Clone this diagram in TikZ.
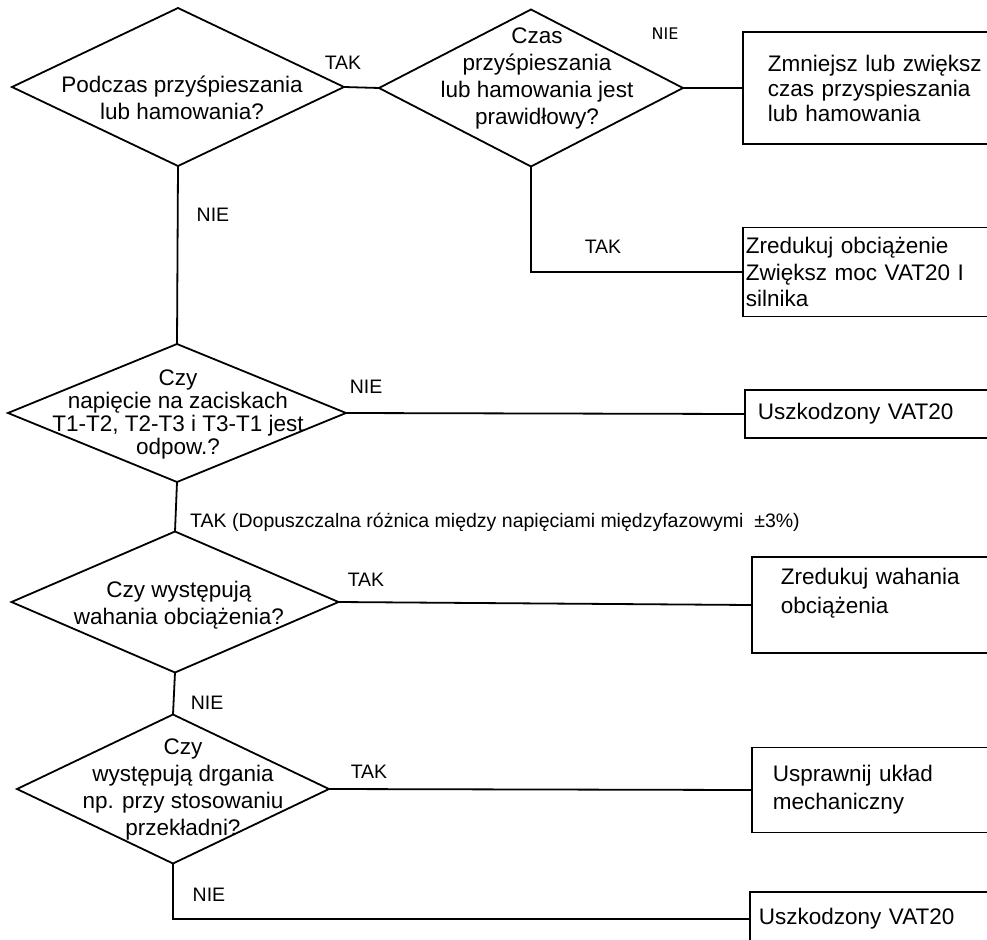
\documentclass[tikz,border=0pt]{standalone}
\usepackage{fontspec}
\setmainfont{Liberation Sans}
\newfontfamily\dejavu{DejaVu Sans}
\usetikzlibrary{shapes.geometric}

\begin{document}
\begin{tikzpicture}[x=1pt, y=-1pt,
                decision/.style={draw=black, line width=1.8pt, diamond, inner sep=0pt, outer sep=0pt},
                question/.style={align=center, inner sep=0pt, font=\fontsize{22.5}{27}\selectfont},
                action/.style={draw=black, line width=1.8pt, rectangle, anchor=west, align=left, text width=260pt, inner ysep=0pt, font=\fontsize{22.5}{25}\selectfont},
                edge/.style={line width=1.8pt},
                answer/.style={inner sep=0pt, font=\fontsize{19.5}{23}\selectfont}
            ]

            \clip (0,0) rectangle (987,939);

            % Decyzje
            \node[decision, minimum width=332pt, minimum height=158pt] (D1) at (178,87) {};
            \node[question] (D1t) at (182,98) {Podczas przyśpieszania\\lub hamowania?};
            \node[decision, minimum width=304pt, minimum height=157pt] (D2) at (531,88) {};
            \node[question] (D2t) at (537,78) {Czas\\przyśpieszania\\lub hamowania jest\\prawidłowy?};
            \node[decision, minimum width=338pt, minimum height=138pt] (D3) at (177,413) {};
            \node[question, font=\fontsize{22.5}{23}\selectfont] (D3t) at (178,414) {Czy\\napięcie na zaciskach\\T1-T2, T2-T3 i T3-T1 jest\\odpow.?};
            \node[decision, minimum width=327pt, minimum height=141pt] (D4) at (175,602) {};
            \node[question] (D4t) at (179,605) {Czy występują\\wahania obciążenia?};
            \node[decision, minimum width=312pt, minimum height=149pt] (D5) at (173,789) {};
            \node[question] (D5t) at (183,789) {Czy\\występują drgania\\np. przy stosowaniu\\przekładni?};

            % Działania
            \node[action, inner xsep=25pt, minimum height=112pt] (B1) at (742,88) {Zmniejsz lub zwiększ\\czas przyspieszania\\lub hamowania};
            \node[action, inner xsep=3pt, minimum height=89pt, font=\fontsize{22.5}{26.5}\selectfont] (B2) at (742,272) {Zredukuj obciążenie\\Zwiększ moc VAT20 I\\silnika};
            \node[action, inner xsep=13pt, minimum height=48pt] (B3) at (744,414) {Uszkodzony VAT20};
            \node[action, inner xsep=29pt, minimum height=96pt, font=\fontsize{22.5}{29}\selectfont] (B4) at (751,605) {Zredukuj wahania\\obciążenia\\\mbox{}};
            \node[action, inner xsep=21pt, minimum height=85pt, font=\fontsize{22.5}{28}\selectfont] (B5) at (751,790) {Usprawnij układ\\mechaniczny};
            \node[action, inner xsep=9pt, minimum height=54pt] (B6) at (749,919) {Uszkodzony VAT20};

            % Połączenia
            \draw[edge] (D1.east) -- (D2.west);
            \draw[edge] (D2.east) -- (B1.west);
            \draw[edge] (D2.south) |- (B2.west);
            \draw[edge] (D1.south) -- (D3.north);
            \draw[edge] (D3.east) -- (B3.west);
            \draw[edge] (D3.south) -- (D4.north);
            \draw[edge] (D4.east) -- (B4.west);
            \draw[edge] (D4.south) -- (D5.north);
            \draw[edge] (D5.east) -- (B5.west);
            \draw[edge] (D5.south) |- (B6.west);

            % Odpowiedzi
            \node[answer] (tak1) at (343,63) {TAK};
            \node[inner sep=0pt, font=\dejavu\fontsize{16}{19}\selectfont] (nie1) at (665,34) {NIE};
            \node[answer] (nie2) at (213,215) {NIE};
            \node[answer] (tak2) at (603,247) {TAK};
            \node[answer] (nie3) at (366,387) {NIE};
            \node[answer, anchor=west] (tak3) at (190,522) {TAK (Dopuszczalna różnica między napięciami międzyfazowymi~ ±3\%)};
            \node[answer] (tak4) at (366,580) {TAK};
            \node[answer] (nie4) at (207,703) {NIE};
            \node[answer] (tak5) at (369,772) {TAK};
            \node[answer] (nie5) at (209,895) {NIE};

        \end{tikzpicture}
\end{document}
